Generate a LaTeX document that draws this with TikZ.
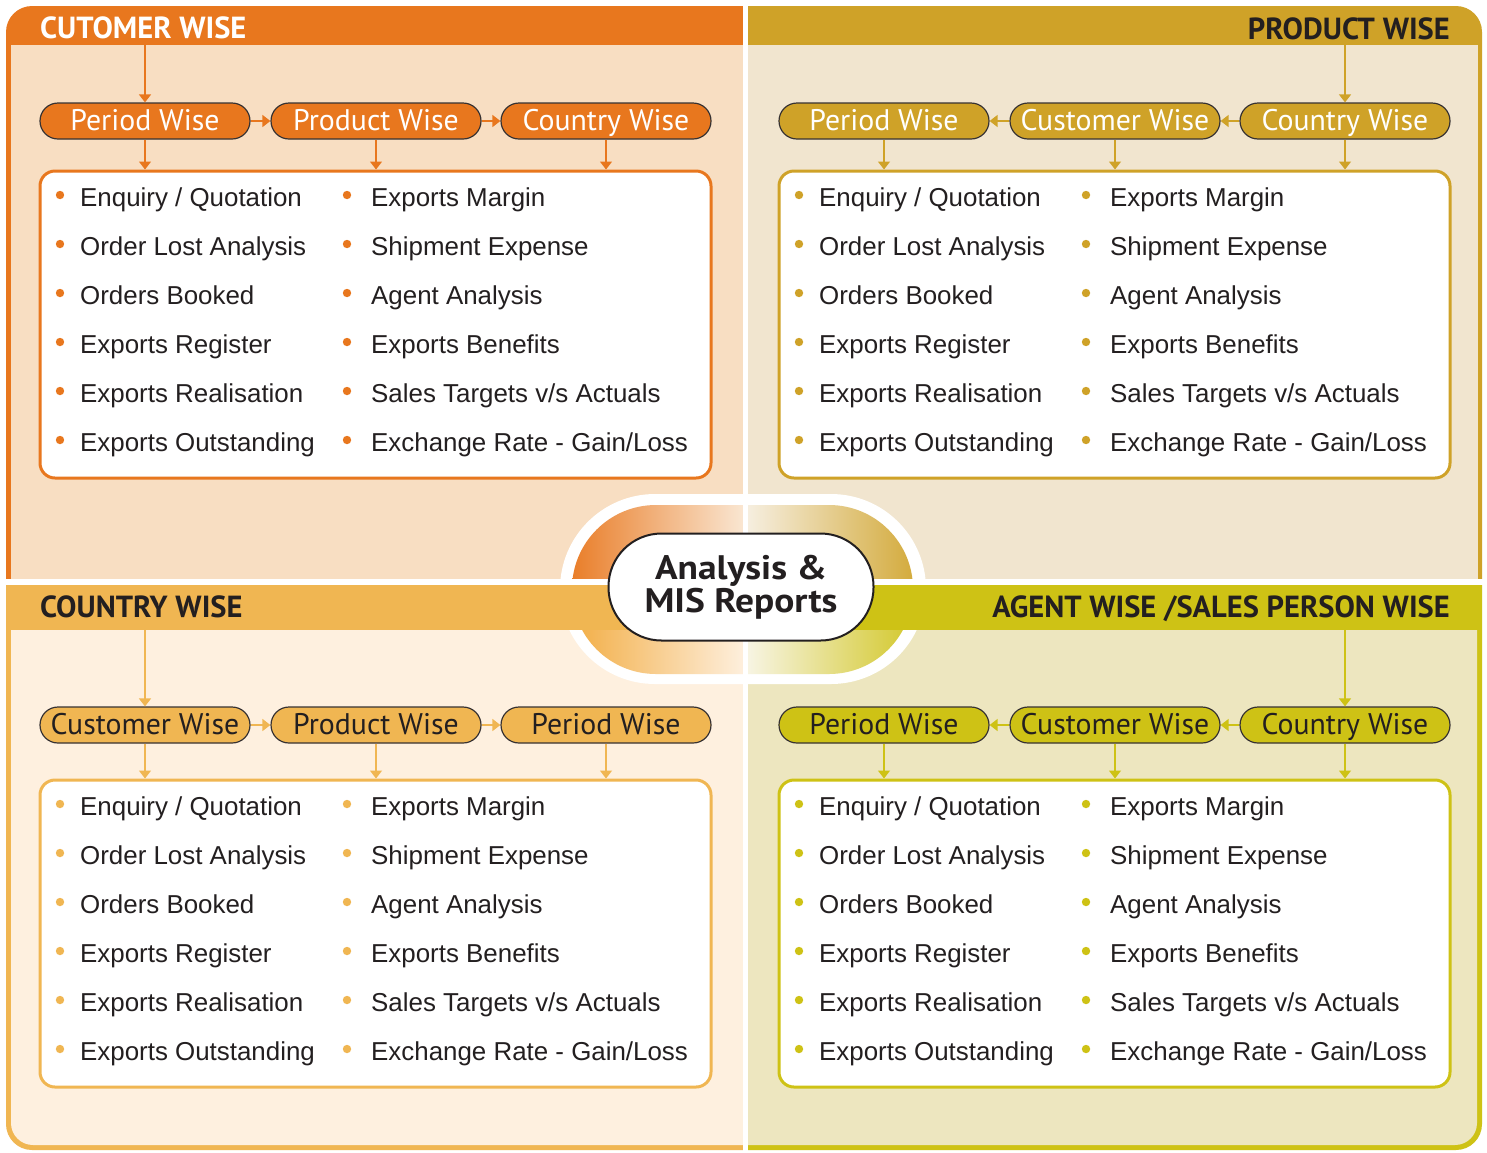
\documentclass[tikz,border=0pt]{standalone}
\usepackage{fontspec}
\setmainfont{Liberation Sans}
\newfontfamily\ptsans{PT Sans}
\newfontfamily\ptwide{PT Sans}[FakeStretch=1.1]
\usetikzlibrary{arrows.meta}
\definecolor{tlhead}{RGB}{232,119,30}
\definecolor{tlbody}{RGB}{248,222,194}
\definecolor{trhead}{RGB}{207,162,40}
\definecolor{trbody}{RGB}{241,229,207}
\definecolor{blhead}{RGB}{240,182,82}
\definecolor{blbody}{RGB}{254,240,223}
\definecolor{brhead}{RGB}{206,194,21}
\definecolor{brbody}{RGB}{237,230,191}
\definecolor{ink}{RGB}{35,31,32}
\definecolor{pillline}{RGB}{55,50,50}
\tikzset{
  pill/.style={rectangle, rounded corners=18pt, draw=pillline, line width=1.2pt,
    minimum width=210pt, minimum height=36pt, inner sep=0pt,
    text height=23pt, text depth=4pt,
    font=\ptsans\fontsize{29.8}{29.8}\selectfont},
  listbox/.style={rectangle, rounded corners=15pt, line width=3pt, fill=white,
    minimum width=671pt, minimum height=307pt, inner sep=0pt},
  item/.style={font=\fontsize{25.9}{25.9}\selectfont, text=ink, inner sep=0pt, anchor=base west},
  hdr/.style={font=\ptsans\bfseries\fontsize{30.5}{30.5}\selectfont, text=ink, inner sep=0pt},
  arr/.style={line width=1.4pt, -{Triangle[width=12pt,length=8pt]}},
}
% #1 prefix, #2 box left x, #3 pill y, #4 box top y, #5 accent, #6 pill text colour, #7-#9 pill labels
\newcommand\mypanel[9]{%
  \node[pill, fill=#5, text=#6] (#1p1) at (#2+105, #3) {#7};
  \node[pill, fill=#5, text=#6] (#1p2) at (#2+336, #3) {#8};
  \node[pill, fill=#5, text=#6] (#1p3) at (#2+566, #3) {#9};
  \node[listbox, draw=#5] (#1box) at (#2+335.5, #4+153.5) {};
  \foreach \i in {1,2,3}{\draw[arr, #5] (#1p\i.south) -- (#1p\i.south |- #1box.north);}
  \foreach \t [count=\k] in {Enquiry / Quotation, Order Lost Analysis, Orders Booked,
      Exports Register, Exports Realisation, Exports Outstanding}{
    \node[item] (#1a\k) at (#2+40, #4+35+49*\k-49) {\t};
    \fill[#5] (#2+20, #4+24+49*\k-49) circle (4.2);}
  \foreach \t [count=\k] in {Exports Margin, Shipment Expense, Agent Analysis,
      Exports Benefits, Sales Targets v/s Actuals, Exchange Rate - Gain/Loss}{
    \node[item] (#1b\k) at (#2+331, #4+35+49*\k-49) {\t};
    \fill[#5] (#2+307, #4+24+49*\k-49) circle (4.2);}
}
\begin{document}
\begin{tikzpicture}[x=1pt, y=-1pt]
\useasboundingbox (0,0) rectangle (1487,1152);
\fill[white] (0,0) rectangle (1487,1152);
% ---- quadrant backgrounds
\begin{scope}
  \clip (0,0) rectangle (743,579);
  \fill[tlhead, rounded corners=26pt] (6,6) rectangle (800,700);
  \fill[tlbody] (11,45) rectangle (743,579);
\end{scope}
\begin{scope}
  \clip (748,0) rectangle (1487,579);
  \fill[trhead, rounded corners=26pt] (690,6) rectangle (1482,700);
  \fill[trbody] (748,45) rectangle (1478,579);
\end{scope}
\begin{scope}
  \clip (0,585) rectangle (743,1152);
  \fill[blhead, rounded corners=26pt] (6,480) rectangle (800,1150);
  \begin{scope}
    \clip (0,630) rectangle (743,1152);
    \fill[blbody, rounded corners=22pt] (11,500) rectangle (800,1145);
  \end{scope}
\end{scope}
\begin{scope}
  \clip (748,585) rectangle (1487,1152);
  \fill[brhead, rounded corners=26pt] (690,480) rectangle (1482,1150);
  \begin{scope}
    \clip (748,630) rectangle (1487,1152);
    \fill[brbody, rounded corners=22pt] (690,500) rectangle (1477,1145);
  \end{scope}
\end{scope}
% ---- centre oval
\fill[white, rounded corners=95pt] (560,494) rectangle (926,684);
\begin{scope}
  \clip[rounded corners=84pt] (572,505) rectangle (913,674);
  \shade[left color=tlhead!95!white, right color=tlbody!70!white] (572,505) rectangle (746,582);
  \shade[left color=trbody!60!white, right color=trhead!90!white] (745,505) rectangle (913,582);
  \shade[left color=blhead!85!orange, right color=blbody] (572,581) rectangle (746,674);
  \shade[left color=brbody!40!white, right color=brhead!90!white] (745,581) rectangle (913,674);
\end{scope}
\fill[blhead] (6,585) rectangle (743,630);
\fill[brhead] (748,585) rectangle (1482,630);
\fill[white] (743,0) rectangle (748,1152);
\fill[white] (0,579) rectangle (1487,585);
\node[rectangle, rounded corners=53pt, draw=ink, line width=2pt, fill=white,
  minimum width=265pt, minimum height=107pt, align=center, text=ink, inner sep=0pt,
  font=\ptwide\bfseries\fontsize{34}{33}\selectfont] (centre) at (741,587)
  {Analysis \&\\MIS Reports};
% ---- headers
\node[hdr, text=white, anchor=base west] (tlt) at (40,38) {CUTOMER WISE};
\node[hdr, anchor=base east] (trt) at (1450,39) {PRODUCT WISE};
\node[hdr, anchor=base west] (blt) at (40,617) {COUNTRY WISE};
\node[hdr, anchor=base east] (brt) at (1450,617) {AGENT WISE /SALES PERSON WISE};
% ---- panels
\mypanel{tl}{40}{121}{171}{tlhead}{white}{Period Wise}{Product Wise}{Country Wise}
\mypanel{tr}{779}{121}{171}{trhead}{white}{Period Wise}{Customer Wise}{Country Wise}
\mypanel{bl}{40}{725}{780}{blhead}{ink}{Customer Wise}{Product Wise}{Period Wise}
\mypanel{br}{779}{725}{780}{brhead}{ink}{Period Wise}{Customer Wise}{Country Wise}
% ---- connectors
\coordinate (tls) at (145,45);
\coordinate (trs) at (1345,45);
\coordinate (bls) at (145,630);
\coordinate (brs) at (1345,630);
\draw[arr, tlhead] (tls) -- (tlp1.north);
\draw[arr, tlhead] (tlp1.east) -- (tlp2.west);
\draw[arr, tlhead] (tlp2.east) -- (tlp3.west);
\draw[arr, trhead] (trs) -- (trp3.north);
\draw[arr, trhead] (trp3.west) -- (trp2.east);
\draw[arr, trhead] (trp2.west) -- (trp1.east);
\draw[arr, blhead] (bls) -- (blp1.north);
\draw[arr, blhead] (blp1.east) -- (blp2.west);
\draw[arr, blhead] (blp2.east) -- (blp3.west);
\draw[arr, brhead] (brs) -- (brp3.north);
\draw[arr, brhead] (brp3.west) -- (brp2.east);
\draw[arr, brhead] (brp2.west) -- (brp1.east);
\end{tikzpicture}
\end{document}
